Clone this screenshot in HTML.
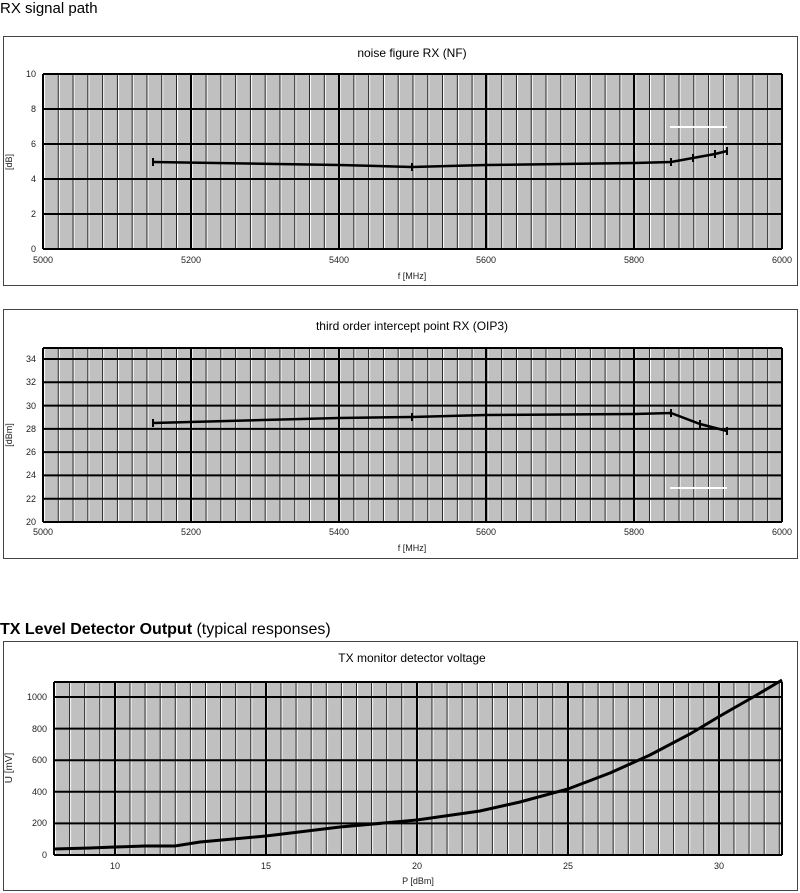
<!DOCTYPE html>
<html><head><meta charset="utf-8"><style>
body{margin:0;background:#fff;width:800px;height:893px;overflow:hidden;font-family:"Liberation Sans",sans-serif}
svg{position:absolute;left:0;top:0}
</style></head><body>
<svg width="800" height="893" viewBox="0 0 800 893" font-family="Liberation Sans, sans-serif">
<defs>
<pattern id="p1" x="43" y="0" width="14.78" height="10" patternUnits="userSpaceOnUse">
<rect x="0" y="0" width="1" height="10" fill="#222"/><rect x="1" y="0" width="1" height="10" fill="#fff"/>
</pattern>
<pattern id="p3" x="54" y="0" width="15.1" height="10" patternUnits="userSpaceOnUse">
<rect x="0" y="0" width="1" height="10" fill="#222"/><rect x="1" y="0" width="1" height="10" fill="#fff"/>
</pattern>
</defs>
<text x="0" y="13" font-size="15">RX signal path</text>

<!-- Chart 1 -->
<rect x="3.5" y="36.5" width="794" height="249" fill="#fff" stroke="#444"/>
<text x="412" y="57" font-size="12" text-anchor="middle">noise figure RX (NF)</text>
<rect x="43" y="74" width="739" height="175" fill="#c0c0c0"/>
<rect x="43" y="74" width="739" height="175" fill="url(#p1)"/>
<g stroke="#000" stroke-width="2">
<line x1="43" y1="74" x2="782" y2="74"/><line x1="43" y1="109" x2="782" y2="109"/><line x1="43" y1="144" x2="782" y2="144"/><line x1="43" y1="179" x2="782" y2="179"/><line x1="43" y1="214" x2="782" y2="214"/><line x1="43" y1="249" x2="782" y2="249"/>
<line x1="43" y1="74" x2="43" y2="249"/><line x1="191" y1="74" x2="191" y2="249"/><line x1="339" y1="74" x2="339" y2="249"/><line x1="486" y1="74" x2="486" y2="249"/><line x1="634" y1="74" x2="634" y2="249"/><line x1="782" y1="74" x2="782" y2="249"/>
</g>
<g font-size="9" fill="#222" text-anchor="end">
<text x="36" y="77">10</text><text x="36" y="112">8</text><text x="36" y="147">6</text><text x="36" y="182">4</text><text x="36" y="217">2</text><text x="36" y="252">0</text>
</g>
<g font-size="9" fill="#222" text-anchor="middle">
<text x="43" y="263">5000</text><text x="191" y="263">5200</text><text x="339" y="263">5400</text><text x="486" y="263">5600</text><text x="634" y="263">5800</text><text x="782" y="263">6000</text>
<text x="412" y="279">f [MHz]</text>
</g>
<text transform="translate(12,162) rotate(-90)" font-size="9" text-anchor="middle" fill="#222">[dB]</text>
<line x1="670" y1="127" x2="727" y2="127" stroke="#fff" stroke-width="2"/>
<polyline points="153,162 339,165 412,167 486,165 634,163 671,162 693,158 715,154 727,151" fill="none" stroke="#000" stroke-width="2.5"/>
<g stroke="#000" stroke-width="2"><line x1="153" y1="158" x2="153" y2="166"/><line x1="412" y1="163" x2="412" y2="171"/><line x1="671" y1="158" x2="671" y2="166"/><line x1="693" y1="154" x2="693" y2="162"/><line x1="715" y1="150" x2="715" y2="158"/><line x1="727" y1="147" x2="727" y2="155"/></g>

<!-- Chart 2 -->
<rect x="3.5" y="309.5" width="794" height="249" fill="#fff" stroke="#444"/>
<text x="412" y="330" font-size="12" text-anchor="middle">third order intercept point RX (OIP3)</text>
<rect x="43" y="348" width="739" height="174" fill="#c0c0c0"/>
<rect x="43" y="348" width="739" height="174" fill="url(#p1)"/>
<g stroke="#000" stroke-width="2">
<line x1="43" y1="348" x2="782" y2="348"/><line x1="43" y1="359" x2="782" y2="359"/><line x1="43" y1="382.3" x2="782" y2="382.3"/><line x1="43" y1="405.6" x2="782" y2="405.6"/><line x1="43" y1="428.9" x2="782" y2="428.9"/><line x1="43" y1="452.1" x2="782" y2="452.1"/><line x1="43" y1="475.4" x2="782" y2="475.4"/><line x1="43" y1="498.7" x2="782" y2="498.7"/><line x1="43" y1="522" x2="782" y2="522"/>
<line x1="43" y1="348" x2="43" y2="522"/><line x1="191" y1="348" x2="191" y2="522"/><line x1="339" y1="348" x2="339" y2="522"/><line x1="486" y1="348" x2="486" y2="522"/><line x1="634" y1="348" x2="634" y2="522"/><line x1="782" y1="348" x2="782" y2="522"/>
</g>
<g font-size="9" fill="#222" text-anchor="end">
<text x="36" y="362">34</text><text x="36" y="385">32</text><text x="36" y="409">30</text><text x="36" y="432">28</text><text x="36" y="455">26</text><text x="36" y="478">24</text><text x="36" y="502">22</text><text x="36" y="525">20</text>
</g>
<g font-size="9" fill="#222" text-anchor="middle">
<text x="43" y="535">5000</text><text x="191" y="535">5200</text><text x="339" y="535">5400</text><text x="486" y="535">5600</text><text x="634" y="535">5800</text><text x="782" y="535">6000</text>
<text x="412" y="551">f [MHz]</text>
</g>
<text transform="translate(12,435) rotate(-90)" font-size="9" text-anchor="middle" fill="#222">[dBm]</text>
<line x1="670" y1="488" x2="727" y2="488" stroke="#fff" stroke-width="2"/>
<polyline points="153,423 339,418 412,417 486,415 634,414 671,413 700,424 727,431" fill="none" stroke="#000" stroke-width="2.5"/>
<g stroke="#000" stroke-width="2"><line x1="153" y1="419" x2="153" y2="427"/><line x1="412" y1="413" x2="412" y2="421"/><line x1="671" y1="409" x2="671" y2="417"/><line x1="700" y1="420" x2="700" y2="428"/><line x1="727" y1="427" x2="727" y2="435"/></g>

<!-- Chart 3 -->
<text x="0" y="634" font-size="16"><tspan font-weight="bold">TX Level Detector Output</tspan> (typical responses)</text>
<rect x="3.5" y="641.5" width="794" height="249" fill="#fff" stroke="#444"/>
<text x="412" y="662" font-size="12" text-anchor="middle">TX monitor detector voltage</text>
<rect x="54" y="682" width="728" height="173" fill="#c0c0c0"/>
<rect x="54" y="682" width="728" height="173" fill="url(#p3)"/>
<g stroke="#000" stroke-width="2">
<line x1="54" y1="682" x2="782" y2="682"/><line x1="54" y1="697" x2="782" y2="697"/><line x1="54" y1="728.6" x2="782" y2="728.6"/><line x1="54" y1="760.2" x2="782" y2="760.2"/><line x1="54" y1="791.8" x2="782" y2="791.8"/><line x1="54" y1="823.4" x2="782" y2="823.4"/><line x1="54" y1="855" x2="782" y2="855"/>
<line x1="54" y1="682" x2="54" y2="855"/><line x1="115" y1="682" x2="115" y2="855"/><line x1="266" y1="682" x2="266" y2="855"/><line x1="417" y1="682" x2="417" y2="855"/><line x1="568" y1="682" x2="568" y2="855"/><line x1="719" y1="682" x2="719" y2="855"/><line x1="782" y1="682" x2="782" y2="855"/>
</g>
<g font-size="9" fill="#222" text-anchor="end">
<text x="47" y="700">1000</text><text x="47" y="732">800</text><text x="47" y="763">600</text><text x="47" y="795">400</text><text x="47" y="826">200</text><text x="47" y="858">0</text>
</g>
<g font-size="9" fill="#222" text-anchor="middle">
<text x="115" y="869">10</text><text x="266" y="869">15</text><text x="417" y="869">20</text><text x="568" y="869">25</text><text x="719" y="869">30</text>
<text x="418" y="884">P [dBm]</text>
</g>
<text transform="translate(12,768) rotate(-90)" font-size="10" text-anchor="middle" fill="#222">U [mV]</text>
<polyline points="54,849 90,848 115,847 145,846 175,846 200,842 266,836 340,827 417,820 480,811 520,802 568,789 610,773 650,755 690,734 720,716 755,696 782,680" fill="none" stroke="#000" stroke-width="3"/>
</svg>
</body></html>
